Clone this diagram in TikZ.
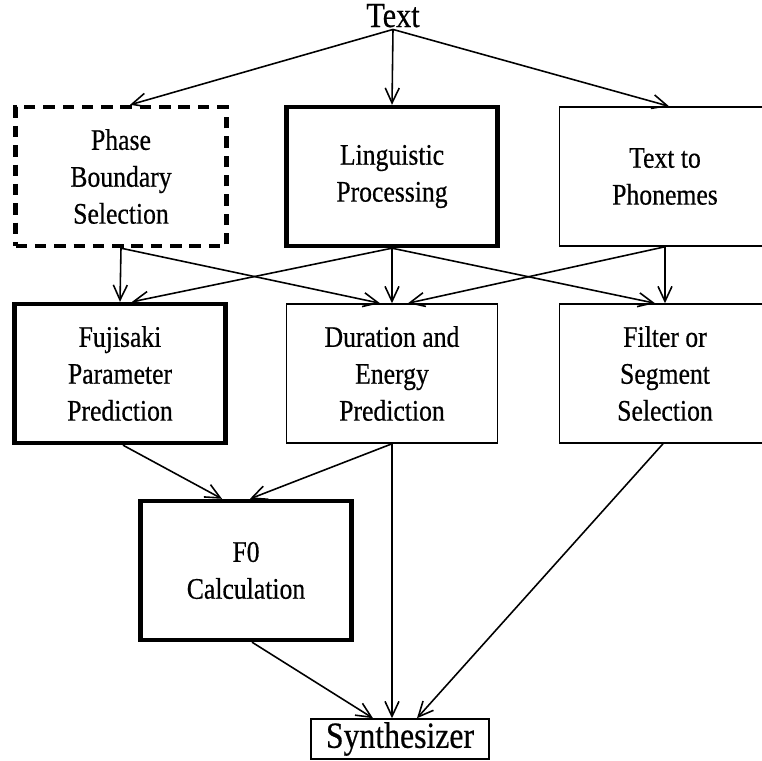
\documentclass[tikz,border=0pt]{standalone}
\usepackage{fontspec}
\setmainfont{Liberation Serif}[FakeStretch=0.86,FakeBold=0.5]
\usetikzlibrary{arrows.meta,calc}
\begin{document}
\begin{tikzpicture}[x=0.02cm,y=-0.02cm,
  box/.style={draw, minimum width=4.22cm, minimum height=2.78cm, align=center,
    font=\fontsize{17}{21}\selectfont, inner sep=0pt},
  thickbox/.style={box, line width=2.5pt},
  thinbox/.style={box, line width=0.9pt},
  dashbox/.style={box, line width=2.5pt, dash pattern=on 6.5pt off 4.5pt},
  arr/.style={-{Straight Barb[length=3mm,width=2.8mm]}, line width=0.9pt}]
\useasboundingbox (0,0) rectangle (762,761);
\clip (0,0) rectangle (762,761);
\node[font=\fontsize{20}{24}\selectfont, inner sep=1pt, anchor=base] (text) at (393,27) {Text};
\node[dashbox] (phase) at (121,176.5) {Phase\\Boundary\\Selection};
\node[thickbox] (ling) at (392,176.5) {Linguistic\\Processing};
\node[thinbox] (ttp) at (665,176.5) {Text to\\Phonemes};
\node[thickbox] (fuji) at (120,373.5) {Fujisaki\\Parameter\\Prediction};
\node[thinbox] (dur) at (392,373.5) {Duration and\\Energy\\Prediction};
\node[thinbox] (filt) at (665,373.5) {Filter or\\Segment\\Selection};
\node[thickbox] (f0) at (246,570.5) {F0\\Calculation};
\node[draw, line width=0.9pt, minimum width=3.56cm, minimum height=0.8cm,
  font=\fontsize{21}{24}\selectfont, inner sep=0pt] (synth) at (400,739) {Synthesizer};
\draw[arr] (text.south) -- ($(phase.north)+(9,0)$);
\draw[arr] (text.south) -- (ling.north);
\draw[arr] (text.south) -- ($(ttp.north)+(4,0)$);
\draw[arr] (phase.south) -- (fuji.north);
\draw[arr] (phase.south) -- ($(dur.north)+(-12,0)$);
\draw[arr] (ling.south) -- ($(fuji.north)+(12,0)$);
\draw[arr] (ling.south) -- (dur.north);
\draw[arr] (ling.south) -- ($(filt.north)+(-10,0)$);
\draw[arr] (ttp.south) -- ($(dur.north)+(16,0)$);
\draw[arr] (ttp.south) -- (filt.north);
\draw[arr] ($(fuji.south)+(3,0)$) -- ($(f0.north)+(-24,0)$);
\draw[arr] (dur.south) -- ($(f0.north)+(4,0)$);
\draw[arr] (dur.south) -- ($(synth.north)+(-8,0)$);
\draw[arr] ($(f0.south)+(6,0)$) -- ($(synth.north)+(-27,0)$);
\draw[arr] ($(filt.south)+(-2,0)$) -- ($(synth.north)+(17,0)$);
\end{tikzpicture}
\end{document}
